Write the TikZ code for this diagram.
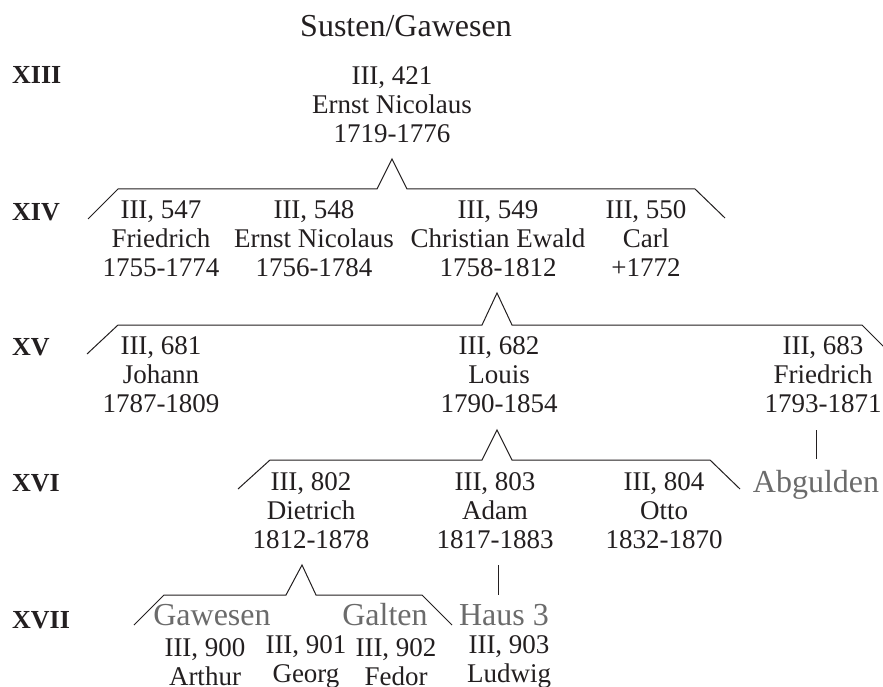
\documentclass[tikz,border=0pt]{standalone}
\usepackage{fontspec}
\setmainfont{Liberation Serif}
\definecolor{ink}{HTML}{231F20}
\definecolor{greytext}{HTML}{6B6B6B}
\tikzset{
  x=1pt,y=-1pt,
  person/.style={align=center,inner sep=0pt,text=ink,font=\fontsize{27}{29}\selectfont},
  gen/.style={anchor=west,inner sep=0pt,text=ink,font=\fontsize{26}{29}\selectfont\bfseries},
  house/.style={anchor=base,inner sep=0pt,text=greytext,font=\fontsize{32}{36}\selectfont},
  bracket/.style={draw=ink,line width=1pt,line join=miter},
  link/.style={draw=ink,line width=1pt},
}
\begin{document}
\begin{tikzpicture}
\path[use as bounding box,clip] (0,0) rectangle (883,687);
\fill[white] (0,0) rectangle (883,687);
% title
\node[anchor=base,inner sep=0pt,text=ink,font=\fontsize{32}{36}\selectfont] (title) at (406,37) {Susten/Gawesen};
% generations
\node[gen] (g13) at (12,75) {XIII};
\node[gen] (g14) at (12,212) {XIV};
\node[gen] (g15) at (12,347) {XV};
\node[gen] (g16) at (12,483) {XVI};
\node[gen] (g17) at (12,620) {XVII};
% XIII
\node[person] (p421) at (392,105) {III, 421\\Ernst Nicolaus\\1719-1776};
% XIV
\node[person] (p547) at (161,239) {III, 547\\Friedrich\\1755-1774};
\node[person] (p548) at (314,239) {III, 548\\Ernst Nicolaus\\1756-1784};
\node[person] (p549) at (498,239) {III, 549\\Christian Ewald\\1758-1812};
\node[person] (p550) at (646,239) {III, 550\\Carl\\+1772};
% XV
\node[person] (p681) at (161,375) {III, 681\\Johann\\1787-1809};
\node[person] (p682) at (499,375) {III, 682\\Louis\\1790-1854};
\node[person] (p683) at (823,375) {III, 683\\Friedrich\\1793-1871};
% XVI
\node[person] (p802) at (311,511) {III, 802\\Dietrich\\1812-1878};
\node[person] (p803) at (495,511) {III, 803\\Adam\\1817-1883};
\node[person] (p804) at (664,511) {III, 804\\Otto\\1832-1870};
% XVII
\node[person] (p900) at (205,662) {III, 900\\Arthur};
\node[person] (p901) at (306,662) {III, 901\\Georg};
\node[person] (p902) at (396,662) {III, 902\\Fedor};
\node[person] (p903) at (509,662) {III, 903\\Ludwig};
% houses
\node[house] (abgulden) at (816,492) {Abgulden};
\node[house] (gawesen) at (212,625) {Gawesen};
\node[house] (galten) at (385,625) {Galten};
\node[house] (haus3) at (504,625) {Haus 3};
% brackets
\draw[bracket] (88,219) -- (118,189) -- (377,189) -- (392,159) -- (407,189) -- (695,189) -- (725,218);
\draw[bracket] (87,354) -- (118,325) -- (482,325) -- (497,293) -- (512,325) -- (862,325) -- (892,355);
\draw[bracket] (238,489) -- (270,460) -- (482,460) -- (497,430) -- (512,460) -- (710,460) -- (740,489);
\draw[bracket] (134,625) -- (164,595) -- (286,595) -- (302,565) -- (316,595) -- (422,595) -- (452,625);
% single descents
\coordinate (abtop) at (816,430);
\coordinate (abbot) at (816,459);
\coordinate (h3top) at (498,565);
\coordinate (h3bot) at (498,595);
\draw[link] (abtop) -- (abbot);
\draw[link] (h3top) -- (h3bot);
\end{tikzpicture}
\end{document}
